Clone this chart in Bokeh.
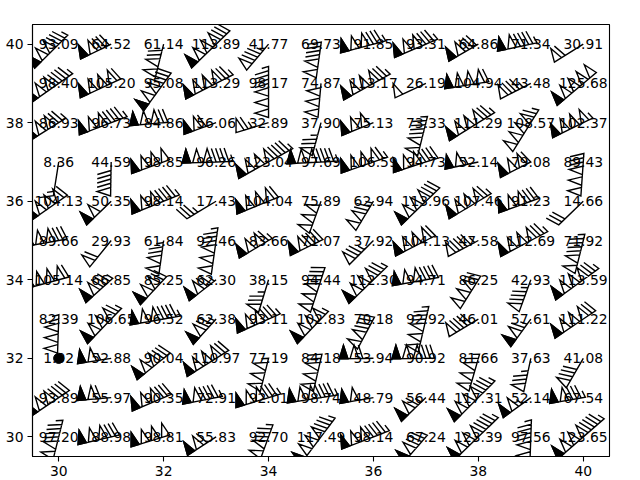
import math
from bokeh.plotting import figure
from bokeh.models import FixedTicker
from bokeh.core.properties import value
from bokeh.embed import file_html
from bokeh.resources import INLINE

# grid
lons = [30, 31, 32, 33, 34, 35, 36, 37, 38, 39, 40]
lats = [40, 39, 38, 37, 36, 35, 34, 33, 32, 31, 30]

# wind speed labels, one list per latitude row (top to bottom)
speed_40 = [93.09, 64.52, 61.14, 113.89, 41.77, 69.73, 91.85, 93.31, 64.86, 71.34, 30.91]
speed_39 = [98.40, 105.20, 95.08, 113.29, 98.17, 74.87, 113.17, 26.19, 104.94, 43.48, 125.68]
speed_38 = [86.93, 96.73, 84.86, 56.06, 32.89, 37.90, 75.13, 73.33, 111.29, 108.57, 102.37]
speed_37 = [8.36, 44.59, 98.85, 96.26, 123.04, 97.69, 106.59, 94.73, 52.14, 79.08, 89.43]
speed_36 = [104.13, 50.35, 98.14, 17.43, 104.04, 75.89, 62.94, 113.96, 107.46, 91.23, 14.66]
speed_35 = [89.66, 29.93, 61.84, 92.46, 83.66, 71.07, 37.92, 104.13, 47.58, 112.69, 71.92]
speed_34 = [105.14, 66.85, 85.25, 62.30, 38.15, 94.44, 112.30, 94.71, 86.25, 42.93, 113.59]
speed_33 = [82.39, 106.65, 96.52, 62.38, 93.11, 102.83, 70.18, 92.92, 46.01, 57.61, 111.22]
speed_32 = [1.02, 52.88, 90.04, 110.97, 77.19, 84.18, 53.94, 90.92, 81.66, 37.63, 41.08]
speed_31 = [93.89, 55.97, 90.35, 72.91, 92.01, 98.74, 48.79, 56.44, 117.31, 52.14, 67.54]
speed_30 = [97.20, 88.98, 98.81, 55.83, 92.70, 117.49, 98.14, 67.24, 123.39, 97.56, 123.65]

# direction the barb staff points to (degrees, counter-clockwise from east)
dir_40 = [225, 206, 256, 224, 230, 262, 195, 203, 210, 192, 212]
dir_39 = [215, 205, 234, 207, 270, 265, 209, 205, 189, 207, 220]
dir_38 = [212, 201, 185, 200, 197, 255, 202, 256, 212, 238, 206]
dir_37 = [261, 269, 200, 182, 209, 183, 199, 198, 192, 207, 266]
dir_36 = [215, 224, 202, 211, 202, 250, 239, 224, 211, 200, 224]
dir_35 = [190, 231, 262, 262, 211, 206, 225, 207, 208, 208, 256]
dir_34 = [195, 222, 227, 218, 253, 252, 224, 190, 238, 250, 216]
dir_33 = [268, 226, 190, 228, 204, 226, 242, 257, 211, 234, 214]
dir_32 = [270, 189, 219, 212, 256, 257, 181, 181, 254, 258, 240]
dir_31 = [214, 185, 203, 191, 197, 189, 190, 224, 225, 216, 190]
dir_30 = [256, 193, 197, 213, 250, 233, 201, 229, 224, 268, 221]

speed_rows = [speed_40, speed_39, speed_38, speed_37, speed_36, speed_35,
              speed_34, speed_33, speed_32, speed_31, speed_30]
dir_rows = [dir_40, dir_39, dir_38, dir_37, dir_36, dir_35,
            dir_34, dir_33, dir_32, dir_31, dir_30]

# layout
FRAME_W, FRAME_H = 577, 432
X0, X1, Y0, Y1 = 29.5, 40.5, 29.5, 40.5
PX_X = FRAME_W / (X1 - X0)
PX_Y = FRAME_H / (Y1 - Y0)

# barb geometry (pixels), matplotlib defaults; barbs drawn in knots
BARB_SCALE = 2.0
LENGTH = 7 * 3.5 * 100 / 72
SPACING = 0.125 * LENGTH
HEIGHT = 0.4 * LENGTH
WIDTH = 0.25 * LENGTH
EMPTY_R = 0.15 * LENGTH


def tails(mag, half=5, full=10, flag=50):
    mag = half * round(mag / half)
    nf, mag = divmod(mag, flag)
    nb, mag = divmod(mag, full)
    return int(nf), int(nb), bool(mag >= half)


def barb_local(nf, nb, hb):
    verts = [(0.0, 0.0)]
    first_flag = None
    off = LENGTH
    for i in range(nf):
        if off != LENGTH:
            off += SPACING / 2
        tri = [(0.0, off), (HEIGHT, off - WIDTH / 2), (0.0, off - WIDTH)]
        if i == 0:
            first_flag = tri
        verts += tri
        off -= WIDTH + SPACING
    for _ in range(nb):
        verts += [(0.0, off), (HEIGHT, off + WIDTH / 2), (0.0, off)]
        off -= SPACING
    if hb:
        if off == LENGTH:
            verts.append((0.0, off))
            off -= 1.5 * SPACING
        verts += [(0.0, off), (HEIGHT / 2, off + WIDTH / 4), (0.0, off)]
    return verts, first_flag


def to_data(pts, lon, lat, deg):
    th = math.radians(deg)
    ct, st = math.cos(th), math.sin(th)
    px, py = [], []
    for (lx, ly) in pts:
        wx = lx * st + ly * ct
        wy = -lx * ct + ly * st
        px.append(lon + wx / PX_X)
        py.append(lat + wy / PX_Y)
    return px, py


xs, ys = [], []
fx, fy = [], []
ex, ey = [], []
tx, ty, tt = [], [], []
for r, lat in enumerate(lats):
    for c, lon in enumerate(lons):
        spd = speed_rows[r][c]
        deg = dir_rows[r][c]
        tx.append(lon)
        ty.append(lat)
        tt.append(f"{spd:.2f}")
        nf, nb, hb = tails(spd * BARB_SCALE)
        if nf == 0 and nb == 0 and not hb:
            ex.append(lon)
            ey.append(lat)
            continue
        verts, flag = barb_local(nf, nb, hb)
        px, py = to_data(verts, lon, lat, deg)
        xs.append(px)
        ys.append(py)
        if flag is not None and nf >= 2 and deg < 235:
            qx, qy = to_data(flag, lon, lat, deg)
            fx.append(qx)
            fy.append(qy)

p = figure(frame_width=FRAME_W, frame_height=FRAME_H,
           x_range=(X0, X1), y_range=(Y0, Y1),
           output_backend="svg", toolbar_location=None,
           min_border_left=32, min_border_right=31,
           min_border_top=24, min_border_bottom=22)
p.background_fill_color = "white"
p.border_fill_color = "white"
p.xgrid.visible = False
p.ygrid.visible = False
p.outline_line_color = "black"
p.outline_line_width = 1.1
p.outline_line_alpha = 1.0

p.patches(xs, ys, fill_color=None, line_color="black", line_width=1.39,
          line_join="miter")
p.patches(fx, fy, fill_color="black", line_color="black", line_width=1.39,
          line_join="miter")
p.scatter(ex, ey, size=2 * EMPTY_R, marker="circle", color="black")
p.text(tx, ty, text=tt, text_align="center", text_baseline="middle",
       text_font=value("DejaVu Sans"), text_font_size="13.9px",
       text_color="black")

for ax in (p.xaxis, p.yaxis):
    ax.ticker = FixedTicker(ticks=[30, 32, 34, 36, 38, 40])
    ax.minor_tick_line_color = None
    ax.major_tick_in = 0
    ax.major_tick_out = 5
    ax.major_tick_line_width = 1.1
    ax.axis_line_width = 1.1
    ax.axis_line_color = "black"
    ax.major_tick_line_color = "black"
    ax.major_label_text_font = "DejaVu Sans"
    ax.major_label_text_font_size = "13.9px"
    ax.major_label_text_color = "black"
    ax.major_label_standoff = 4

open("out.html", "w").write(file_html(p, INLINE))
